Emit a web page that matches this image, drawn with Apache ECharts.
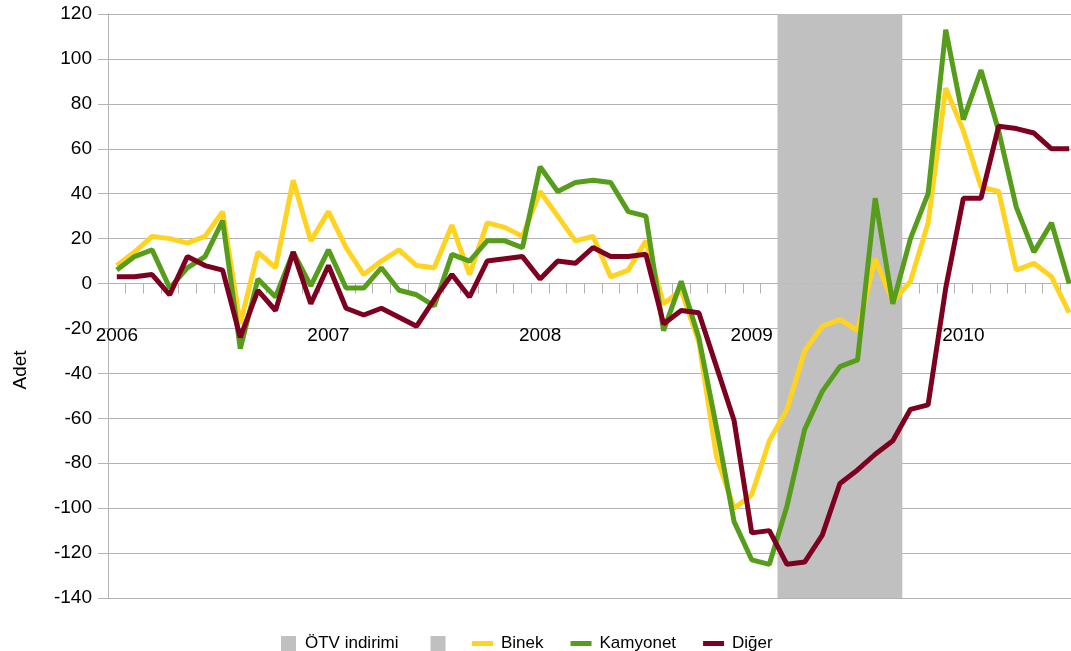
<!DOCTYPE html>
<html>
<head>
<meta charset="utf-8">
<script src="https://cdn.jsdelivr.net/npm/echarts@6/dist/echarts.min.js"></script>
<style>
    html, body { margin: 0; padding: 0; background: #fff; }
    #chart { width: 1071px; height: 651px; }
</style>
</head>
<body>
<div id="chart"></div>
<script>
// years shown on the x axis, one label per January
const years = ['2006', '2007', '2008', '2009', '2010'];
const monthCount = 55; // Jan 2006 .. Jul 2010

// ÖTV indirimi period (shaded band)
const otvMonths = ['2009-03', '2009-04', '2009-05', '2009-06', '2009-07', '2009-08', '2009-09'];
const otvTop = 120;
const otvBottom = -140;

const binek = [
    8, 14, 21, 20, 18, 21, 32, -18, 14, 7,
    46, 19, 32, 16, 4, 10, 15, 8, 7, 26,
    4, 27, 25, 21, 41, 30, 19, 21, 3, 6,
    19, -9, -3, -26, -77, -100, -94, -70, -56, -30,
    -19, -16, -21, 11, -8, 1, 27, 87, 68, 43,
    41, 6, 9, 3, -13
];
const kamyonet = [
    6, 12, 15, -2, 7, 12, 28, -29, 2, -6,
    14, -1, 15, -2, -2, 7, -3, -5, -10, 13,
    10, 19, 19, 16, 52, 41, 45, 46, 45, 32,
    30, -21, 1, -24, -64, -106, -123, -125, -99, -65,
    -48, -37, -34, 38, -9, 20, 40, 113, 73, 95,
    68, 34, 14, 27, 0
];
const diger = [
    3, 3, 4, -5, 12, 8, 6, -24, -3, -12,
    14, -9, 8, -11, -14, -11, -15, -19, -7, 4,
    -6, 10, 11, 12, 2, 10, 9, 16, 12, 12,
    13, -18, -12, -13, -37, -61, -111, -110, -125, -124,
    -112, -89, -83, -76, -70, -56, -54, -2, 38, 38,
    70, 69, 67, 60, 60
];

const categories = [];
for (let i = 0; i < monthCount; i++) {
    const y = 2006 + Math.floor(i / 12);
    const m = (i % 12) + 1;
    categories.push(y + '-' + (m < 10 ? '0' + m : m));
}
const shadeUp = categories.map(c => otvMonths.indexOf(c) >= 0 ? otvTop : null);
const shadeDown = categories.map(c => otvMonths.indexOf(c) >= 0 ? otvBottom : null);

const chart = echarts.init(document.getElementById('chart'));
const font = 'Liberation Sans, Arial, sans-serif';

chart.setOption({
    animation: false,
    textStyle: { fontFamily: font },
    grid: { left: 108, top: 14, bottom: 53, right: -7, containLabel: false, outerBoundsMode: 'none' },
    graphic: [{
        type: 'text',
        x: 21,
        y: 370,
        rotation: Math.PI / 2,
        style: {
            text: 'Adet',
            font: '19px ' + font,
            fill: '#000',
            align: 'center',
            verticalAlign: 'middle'
        }
    }],
    legend: [
        {
            left: 276,
            top: 630,
            itemWidth: 15,
            itemHeight: 15,
            itemGap: 32,
            icon: 'rect',
            textStyle: { fontSize: 17, color: '#000', fontFamily: font, padding: [0, 0, 0, 4] },
            data: ['ÖTV indirimi', ' ']
        },
        {
            left: 467,
            top: 630,
            itemWidth: 21,
            itemHeight: 5,
            itemGap: 27,
            icon: 'rect',
            textStyle: { fontSize: 17, color: '#000', fontFamily: font, padding: [0, 0, 0, 3] },
            data: ['Binek', 'Kamyonet', 'Diğer']
        }
    ],
    xAxis: [
        {
            type: 'category',
            data: categories,
            boundaryGap: true,
            axisLine: { onZero: true, lineStyle: { color: '#b3b3b3', width: 1 } },
            axisTick: { show: true, interval: 0, length: 10, lineStyle: { color: '#b3b3b3' } },
            axisLabel: { show: false },
            splitLine: { show: false }
        },
        {
            // year labels, drawn just under the zero line
            type: 'category',
            position: 'bottom',
            data: categories,
            boundaryGap: true,
            offset: -280,
            axisLine: { show: false },
            axisTick: { show: false },
            axisLabel: {
                interval: 11,
                margin: 8,
                fontSize: 19,
                color: '#000',
                formatter: v => years[years.indexOf(v.slice(0, 4))]
            },
            splitLine: { show: false }
        }
    ],
    yAxis: {
        type: 'value',
        min: -140,
        max: 120,
        interval: 20,
        axisLine: { show: true, lineStyle: { color: '#b3b3b3', width: 1 } },
        axisTick: { show: true, length: 10, lineStyle: { color: '#b3b3b3' } },
        axisLabel: { fontSize: 19, color: '#000', margin: 16 },
        splitLine: { lineStyle: { color: '#b3b3b3', width: 1 } }
    },
    series: [
        {
            name: 'ÖTV indirimi',
            type: 'bar',
            data: shadeUp,
            barWidth: 19,
            barGap: '-100%',
            itemStyle: { color: '#c0c0c0' },
            z: 1
        },
        {
            name: ' ',
            type: 'bar',
            data: shadeDown,
            barWidth: 19,
            barGap: '-100%',
            itemStyle: { color: '#c0c0c0' },
            z: 1
        },
        {
            name: 'Binek',
            type: 'line',
            data: binek,
            symbol: 'none',
            lineStyle: { color: '#ffd320', width: 5 },
            itemStyle: { color: '#ffd320' },
            z: 3
        },
        {
            name: 'Kamyonet',
            type: 'line',
            data: kamyonet,
            symbol: 'none',
            lineStyle: { color: '#579d1c', width: 5 },
            itemStyle: { color: '#579d1c' },
            z: 4
        },
        {
            name: 'Diğer',
            type: 'line',
            data: diger,
            symbol: 'none',
            lineStyle: { color: '#7e0021', width: 5 },
            itemStyle: { color: '#7e0021' },
            z: 5
        }
    ]
});
</script>
</body>
</html>
